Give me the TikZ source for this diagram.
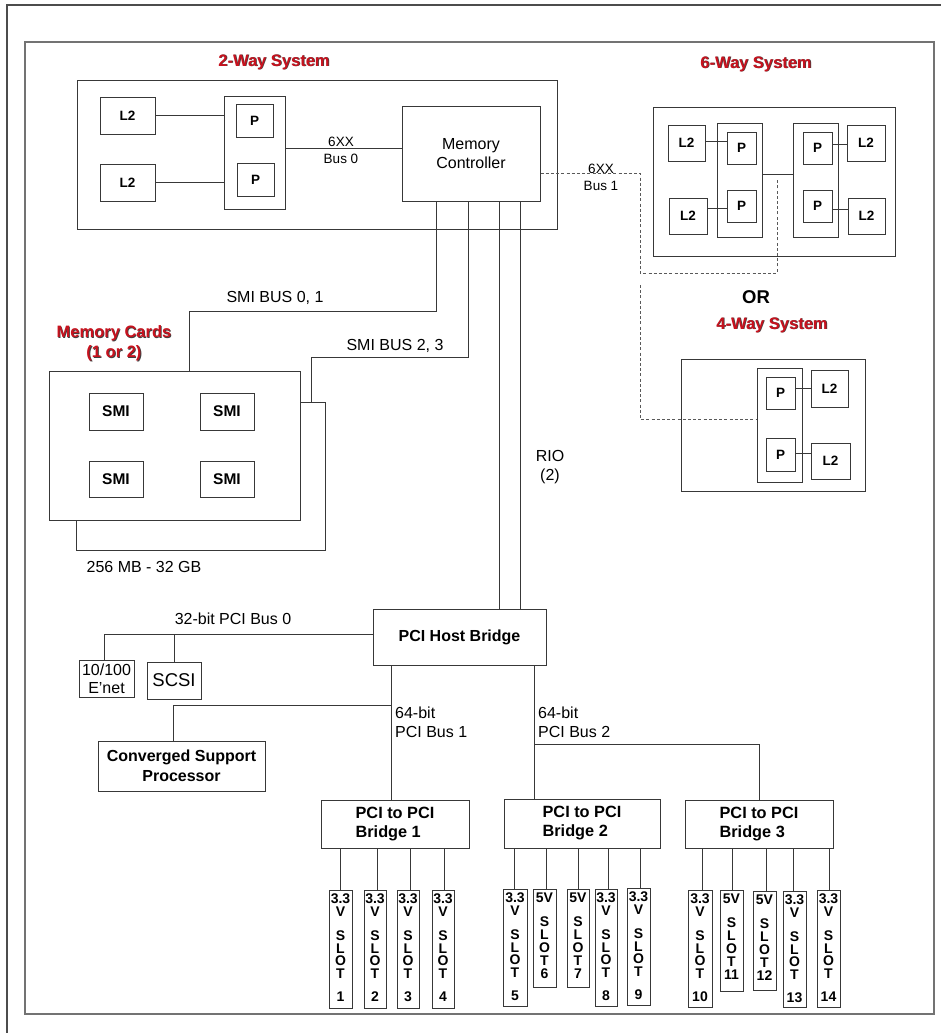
\documentclass[tikz,border=0pt]{standalone}
\usepackage{fontspec}
\setmainfont{Liberation Sans}
\definecolor{titlered}{RGB}{200,18,30}
\newcommand\bx[7][]{\node[box,minimum width={(#5)-(#3)},minimum height={(#6)-(#4)},#1] (#2) at ({((#3)+(#5))/2},{((#4)+(#6))/2}) {#7};}
\newcommand\ttlnode[4]{\node[shd] (#1s) at ({#2+0.8},{#3+0.8}) {#4};\node[ttl] (#1) at (#2,#3) {#4};}
\begin{document}
\begin{tikzpicture}[x=1pt,y=-1pt,
  ln/.style={draw=black!78, line width=1pt},
  box/.style={draw=black!78, line width=1pt, fill=white, inner sep=0pt, align=center},
  dsh/.style={draw=black!65, line width=0.9pt, dash pattern=on 3pt off 2.2pt},
  lbl/.style={inner sep=0pt, font=\fontsize{16}{19}\selectfont, align=center},
  lbs/.style={inner sep=0pt, font=\fontsize{13.5}{17}\selectfont, align=center},
  bf/.style={font=\bfseries\fontsize{13.5}{16}\selectfont},
  bfm/.style={font=\bfseries\fontsize{15.5}{19}\selectfont},
  bfl/.style={font=\bfseries\fontsize{16.3}{19}\selectfont},
  ttl/.style={inner sep=0pt, font=\bfseries\fontsize{16.5}{20}\selectfont, text=titlered},
  shd/.style={inner sep=0pt, font=\bfseries\fontsize{16.5}{20}\selectfont, text=black!75},
  st/.style={inner sep=0pt, font=\bfseries\fontsize{14}{14}\selectfont},
]
\useasboundingbox (0,0) rectangle (941,1033);
\fill[white] (0,0) rectangle (941,1033);
% frames
\draw[draw=black!70, line width=1.2pt] (7,1033) -- (7,5) -- (941,5);
\draw[draw=black!55, line width=1.6pt] (25,42) rectangle (934,1014);

% ---------- 2-way system
\ttlnode{t2}{274}{62}{2-Way System}
\bx{two}{77}{80}{557}{229}{}
\bx[bf]{l2a}{100}{97}{155}{134}{L2}
\bx[bf]{l2b}{100}{164}{155}{201}{L2}
\bx{pcol}{224}{96}{285}{209}{}
\bx[bf]{pa}{236}{104}{273}{137}{P}
\bx[bf]{pb}{237}{163}{274}{196}{P}
\bx[font=\fontsize{16}{19}\selectfont]{mc}{402}{106}{540}{201}{Memory\\Controller}
\draw[ln] (l2a.east) -- (l2a.east -| pcol.west);
\draw[ln] (l2b.east) -- (l2b.east -| pcol.west);
\draw[ln] (pcol.east |- 0,148) -- (mc.west |- 0,148);
\node[lbs] (bus0) at (341,150.5) {6XX\\Bus 0};

% ---------- 6-way system
\ttlnode{t6}{756}{64}{6-Way System}
\bx{six}{653}{107}{895}{256}{}
\bx{cl}{717}{123}{762}{237}{}
\bx{cr}{793}{123}{838}{237}{}
\bx[bf]{l2tl}{668}{125}{705}{161}{L2}
\bx[bf]{l2bl}{669}{198}{707}{234}{L2}
\bx[bf]{ptl}{727}{132}{756}{164}{P}
\bx[bf]{pbl}{727}{190}{756}{222}{P}
\bx[bf]{ptr}{803}{132}{832}{164}{P}
\bx[bf]{pbr}{803}{190}{832}{222}{P}
\bx[bf]{l2tr}{847}{125}{885}{161}{L2}
\bx[bf]{l2br}{848}{198}{885}{234}{L2}
\draw[ln] (l2tl.east |- 0,141) -- (ptl.west |- 0,141);
\draw[ln] (l2bl.east |- 0,208) -- (pbl.west |- 0,208);
\draw[ln] (ptr.east |- 0,144) -- (l2tr.west |- 0,144);
\draw[ln] (pbr.east |- 0,209) -- (l2br.west |- 0,209);
\draw[ln] (cl.east |- 0,174) -- (cr.west |- 0,174);
\node[lbs] (bus1) at (601,177) {6XX\\Bus 1};

\node[inner sep=0pt, font=\bfseries\fontsize{18.5}{20}\selectfont] (or) at (756,297) {OR};

% ---------- 4-way system
\ttlnode{t4}{772}{325}{4-Way System}
\bx{four}{681}{359}{865}{491}{}
\bx{c4}{757}{368}{802}{482}{}
\bx[bf]{p4a}{766}{377}{795}{409}{P}
\bx[bf]{p4b}{766}{438}{795}{471}{P}
\bx[bf]{l24a}{811}{370}{848}{407}{L2}
\bx[bf]{l24b}{811}{443}{850}{479}{L2}
\draw[ln] (p4a.east |- 0,388) -- (l24a.west |- 0,388);
\draw[ln] (p4b.east |- 0,453) -- (l24b.west |- 0,453);

% dashed 6XX bus 1
\draw[dsh] (mc.east |- 0,173) -| (640,273) -| (777,0 |- cl.east);
\draw[dsh] (640,285) |- (c4.west |- 0,419);

% ---------- memory cards
\ttlnode{tm1}{114}{333}{Memory Cards}
\ttlnode{tm2}{114}{353}{(1 or 2)}
\bx{card2}{76}{402}{325}{550}{}
\bx{card1}{49}{371}{300}{520}{}
\bx[bfm]{smi1}{89}{393}{143}{430}{SMI}
\bx[bfm]{smi2}{200}{393}{254}{430}{SMI}
\bx[bfm]{smi3}{89}{461}{143}{497}{SMI}
\bx[bfm]{smi4}{200}{461}{254}{497}{SMI}
\draw[ln] (436,0 |- mc.south) |- (189,311) -- (189,0 |- card1.north);
\draw[ln] (468,0 |- mc.south) |- (311,357) -- (311,0 |- card2.north);
\node[lbl] (smib01) at (275,298) {SMI BUS 0, 1};
\node[lbl] (smib23) at (395,346) {SMI BUS 2, 3};
\node[lbl] (memsz) at (144,567) {256 MB - 32 GB};

% ---------- PCI host bridge
\bx[font=\bfseries\fontsize{16}{18}\selectfont]{phb}{373}{609}{546}{665}{PCI Host Bridge}
\draw[ln] (499,0 |- mc.south) -- (499,0 |- phb.north);
\draw[ln] (520,0 |- mc.south) -- (520,0 |- phb.north);
\node[lbl] (rio) at (550,467) {RIO\\(2)};

\bx[font=\fontsize{16}{18}\selectfont]{enet}{79}{660}{134}{697}{10/100\\E'net}
\bx[font=\fontsize{18.5}{20}\selectfont]{scsi}{147}{662}{201}{699}{SCSI}
\bx[font=\bfseries\fontsize{16}{20}\selectfont]{csp}{98}{741}{265}{791}{Converged Support\\Processor}
\draw[ln] (phb.west |- 0,634) -| (104,0 |- enet.north);
\draw[ln] (174,634) -- (174,0 |- scsi.north);
\node[lbl] (pb0) at (233,619) {32-bit PCI Bus 0};

\bx[bfl,align=left]{br1}{321}{800}{469}{848}{PCI to PCI\\Bridge 1}
\bx[bfl,align=left]{br2}{504}{799}{660}{848}{PCI to PCI\\Bridge 2}
\bx[bfl,align=left]{br3}{685}{800}{833}{848}{PCI to PCI\\Bridge 3}
\draw[ln] (391,0 |- phb.south) -- (391,0 |- br1.north);
\draw[ln] (391,705) -| (173,0 |- csp.north);
\draw[ln] (534,0 |- phb.south) -- (534,0 |- br2.north);
\draw[ln] (534,744) -| (br3.north);
\node[lbl, anchor=west, align=left] (pb1) at (395,722.5) {64-bit\\PCI Bus 1};
\node[lbl, anchor=west, align=left] (pb2) at (538,722.5) {64-bit\\PCI Bus 2};

% ---------- slots
\foreach \n/\xa/\xb/\ya/\yb/\v/\cx/\br in {
  1/329/352/890/1008/3/340/br1, 2/364/386/890/1008/3/377/br1,
  3/397/419/890/1008/3/410/br1, 4/432/454/890/1008/3/444/br1,
  5/503/527/889/1006/3/514/br2, 6/533/556/889/987/5/546/br2,
  7/567/589/889/987/5/578/br2, 8/595/617/889/1006/3/608/br2,
  9/627/650/888/1005/3/640/br2, 10/688/712/890/1007/3/702/br3,
  11/720/743/890/991/5/732/br3, 12/753/776/891/990/5/766/br3,
  13/783/806/891/1007/3/793/br3, 14/817/840/890/1007/3/829/br3}{
  \node[box, minimum width={\xb-\xa}, minimum height={\yb-\ya}] (s\n) at ({(\xa+\xb)/2},{(\ya+\yb)/2}) {};
  \draw[ln] (\cx,0 |- s\n.north) -- (\cx,0 |- \br.south);
  \pgfmathsetmacro\mx{(\xa+\xb)/2}
  \ifnum\v=3
    \node[st] (s\n-a) at (\mx,\ya+9) {3.3};
    \node[st] (s\n-b) at (\mx,\ya+21.5) {V};
    \node[st] (s\n-c) at (\mx,\ya+46) {S};
    \node[st] (s\n-d) at (\mx,\ya+58.5) {L};
    \node[st] (s\n-e) at (\mx,\ya+71) {O};
    \node[st] (s\n-f) at (\mx,\ya+84) {T};
    \node[st] (s\n-g) at (\mx,\ya+107) {\n};
  \else
    \node[st] (s\n-a) at (\mx,\ya+9) {5V};
    \node[st] (s\n-c) at (\mx,\ya+33) {S};
    \node[st] (s\n-d) at (\mx,\ya+46) {L};
    \node[st] (s\n-e) at (\mx,\ya+59) {O};
    \node[st] (s\n-f) at (\mx,\ya+72) {T};
    \node[st] (s\n-g) at (\mx,\ya+85) {\n};
  \fi
}
\end{tikzpicture}
\end{document}
